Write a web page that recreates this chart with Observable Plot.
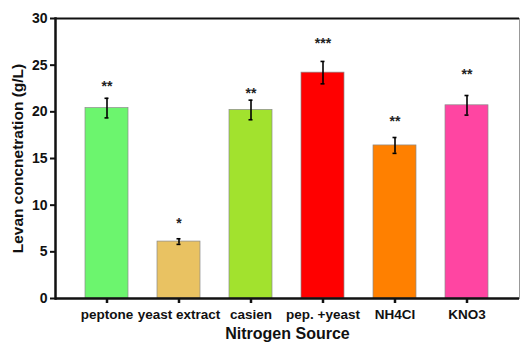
<!DOCTYPE html>
<html>
<head>
<meta charset="utf-8">
<script src="https://cdn.jsdelivr.net/npm/d3@7"></script>
<script src="https://cdn.jsdelivr.net/npm/@observablehq/plot@0.6"></script>
<style>
  html, body { margin: 0; padding: 0; background: #fff; }
  svg { display: block; }
</style>
</head>
<body>
<div id="chart"></div>
<script>
const categories = ["peptone", "yeast extract", "casien", "pep. +yeast", "NH4CI", "KNO3"];
const values = [20.4, 6.1, 20.2, 24.2, 16.4, 20.7];
const errors = [1.05, 0.3, 1.05, 1.2, 0.85, 1.05];
const stars = ["**", "*", "**", "***", "**", "**"];
const starY = [23.1, 8.5, 22.4, 27.7, 19.4, 24.4];
const colors = ["#6CF56E", "#E9C262", "#A2E22E", "#FF0000", "#FF8000", "#FF45A2"];
const yTicks = [0, 5, 10, 15, 20, 25, 30];
const yLabel = "Levan concnetration (g/L)";
const xLabel = "Nitrogen Source";

const data = categories.map((c, i) => ({
  cat: c, v: values[i], e: errors[i], s: stars[i], sy: starY[i], col: colors[i]
}));

const font = "'Liberation Sans', Arial, sans-serif";

const chart = Plot.plot({
  width: 520,
  height: 343,
  marginLeft: 55,
  marginRight: 1,
  marginTop: 18,
  marginBottom: 45,
  style: { fontFamily: font, fontWeight: "bold", fontSize: "13.5px", color: "#111", background: "#fff" },
  x: { domain: categories, padding: 0.4, label: null },
  y: { domain: [0, 30], label: null },
  marks: [
    Plot.frame({ stroke: "#999", strokeWidth: 1 }),
    Plot.barY(data, { x: "cat", y: "v", fill: "col", stroke: "#8a8a8a", strokeWidth: 0.7 }),
    Plot.ruleX(data, { x: "cat", y1: d => d.v - d.e, y2: d => d.v + d.e, stroke: "#000", strokeWidth: 1.6 }),
    Plot.tickY(data, { x: "cat", y: d => d.v - d.e, stroke: "#000", strokeWidth: 1.6, insetLeft: 19.5, insetRight: 19.5 }),
    Plot.tickY(data, { x: "cat", y: d => d.v + d.e, stroke: "#000", strokeWidth: 1.6, insetLeft: 19.5, insetRight: 19.5 }),
    Plot.text(data, { x: "cat", y: "sy", text: "s", fontSize: 14, dy: 4, fill: "#222" }),
    Plot.ruleY([30], { stroke: "#111", strokeWidth: 2 }),
    Plot.ruleY([0], { stroke: "#111", strokeWidth: 2.5 }),
    Plot.frame({ anchor: "left", stroke: "#111", strokeWidth: 2.5 }),
    Plot.axisY({ ticks: yTicks, tickSize: 5, tickPadding: 3, strokeWidth: 2, fontSize: 14, label: null }),
    Plot.axisX({ tickSize: 5, tickPadding: 6, strokeWidth: 2.5, fontSize: 13.5, label: null }),
    Plot.text([yLabel], { frameAnchor: "left", rotate: -90, dx: -37, textAnchor: "middle", lineAnchor: "middle", text: d => d, fontSize: 15.5, fontWeight: "bold" }),
    Plot.text([xLabel], { frameAnchor: "bottom", dy: 35, lineAnchor: "middle", text: d => d, fontSize: 16, fontWeight: "bold" })
  ]
});

document.getElementById("chart").appendChild(chart);
</script>
</body>
</html>
